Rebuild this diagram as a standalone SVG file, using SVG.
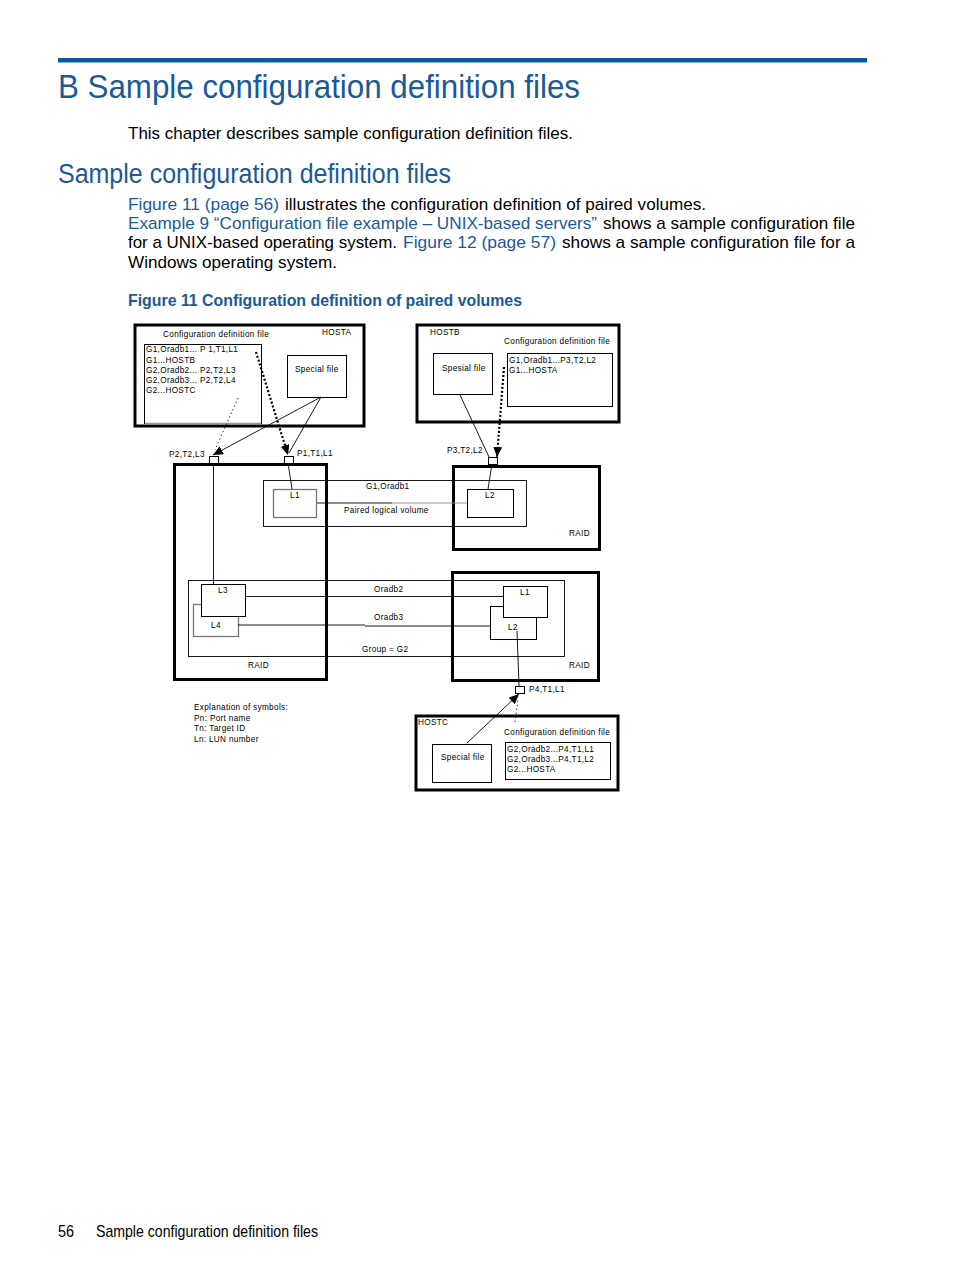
<svg xmlns="http://www.w3.org/2000/svg" width="954" height="1271" viewBox="0 0 954 1271">
<style>
.blue{fill:#1a5a96;font-family:"Liberation Sans",Arial,sans-serif}
.body{fill:#000;font-family:"Liberation Sans",Arial,sans-serif;font-size:17px}
.lnk{fill:#1a5a96;font-family:"Liberation Sans",Arial,sans-serif;font-size:17px}
.t{font-family:"Liberation Sans",Arial,sans-serif;font-size:8.2px;letter-spacing:0.33px;fill:#000}
.thick{fill:none;stroke:#000;stroke-width:3}
.thin{fill:#fff;stroke:#000;stroke-width:1}
.gray{fill:#fff;stroke:#777;stroke-width:1.3}
.ln{fill:none;stroke:#000;stroke-width:0.9}
.lg{fill:none;stroke:#888;stroke-width:0.9}
.dotb{fill:none;stroke:#000;stroke-width:2.2;stroke-dasharray:2 2}
.dott{fill:none;stroke:#000;stroke-width:0.8;stroke-dasharray:1.5 2.5}
</style>
<defs>
<marker id="ah" markerUnits="userSpaceOnUse" markerWidth="11" markerHeight="9" refX="10" refY="4.5" orient="auto">
<path d="M0,0 L10,4.5 L0,9 z" fill="#000"/>
</marker>
</defs>
<rect width="954" height="1271" fill="#fff"/>
<g id="header">
<rect x="58" y="58" width="809" height="4.5" fill="#0b5aa0"/>
<text class="blue" x="58" y="98" font-size="34" textLength="522" lengthAdjust="spacingAndGlyphs">B Sample configuration definition files</text>
<text class="body" x="128" y="139" textLength="445" lengthAdjust="spacingAndGlyphs">This chapter describes sample configuration definition files.</text>
<text class="blue" x="58" y="183" font-size="27" textLength="393" lengthAdjust="spacingAndGlyphs">Sample configuration definition files</text>
<text class="lnk" x="128" y="210" textLength="151" lengthAdjust="spacingAndGlyphs">Figure 11 (page 56)</text>
<text class="body" x="285" y="210" textLength="421" lengthAdjust="spacingAndGlyphs">illustrates the configuration definition of paired volumes.</text>
<text class="lnk" x="128" y="229" textLength="469" lengthAdjust="spacingAndGlyphs">Example 9 “Configuration file example – UNIX-based servers”</text>
<text class="body" x="603" y="229" textLength="252" lengthAdjust="spacingAndGlyphs">shows a sample configuration file</text>
<text class="body" x="128" y="248" textLength="269" lengthAdjust="spacingAndGlyphs">for a UNIX-based operating system.</text>
<text class="lnk" x="403" y="248" textLength="153" lengthAdjust="spacingAndGlyphs">Figure 12 (page 57)</text>
<text class="body" x="562" y="248" textLength="293" lengthAdjust="spacingAndGlyphs">shows a sample configuration file for a</text>
<text class="body" x="128" y="268" textLength="209" lengthAdjust="spacingAndGlyphs">Windows operating system.</text>
<text class="blue" x="128" y="306" font-size="16.5" font-weight="bold" textLength="394" lengthAdjust="spacingAndGlyphs">Figure 11 Configuration definition of paired volumes</text>
</g>
<g id="hosta">
<rect class="thick" x="135" y="325" width="229" height="101"/>
<text class="t" x="163" y="337">Configuration definition file</text>
<text class="t" x="322" y="335">HOSTA</text>
<rect class="thin" x="144.5" y="344.5" width="117" height="79"/>
<line x1="145" y1="423.5" x2="261" y2="423.5" stroke="#999" stroke-width="1.5"/>
<text class="t" x="146" y="352">G1,Oradb1... P 1,T1,L1</text>
<text class="t" x="146" y="363">G1...HOSTB</text>
<text class="t" x="146" y="373">G2,Oradb2... P2,T2,L3</text>
<text class="t" x="146" y="383">G2,Oradb3... P2,T2,L4</text>
<text class="t" x="146" y="393">G2...HOSTC</text>
<rect class="thin" x="287.5" y="355.5" width="59" height="42"/>
<text class="t" x="295" y="372">Special file</text>
</g>
<g id="hostb">
<rect class="thick" x="417" y="325" width="202" height="97"/>
<text class="t" x="430" y="335">HOSTB</text>
<text class="t" x="504" y="344">Configuration definition file</text>
<rect class="thin" x="433.5" y="353.5" width="59" height="41"/>
<text class="t" x="442" y="371">Spesial file</text>
<rect class="thin" x="507.5" y="353.5" width="105" height="53"/>
<text class="t" x="509" y="363">G1,Oradb1...P3,T2,L2</text>
<text class="t" x="509" y="373">G1...HOSTA</text>
</g>
<g id="hostc">
<rect class="thick" x="416" y="716" width="202" height="74"/>
<text class="t" x="418" y="725">HOSTC</text>
<text class="t" x="504" y="735">Configuration definition file</text>
<rect class="thin" x="432.5" y="744.5" width="59" height="38"/>
<text class="t" x="441" y="760">Special file</text>
<rect class="thin" x="505.5" y="742.5" width="105" height="37"/>
<text class="t" x="507" y="752">G2,Oradb2...P4,T1,L1</text>
<text class="t" x="507" y="762">G2,Oradb3...P4,T1,L2</text>
<text class="t" x="507" y="772">G2...HOSTA</text>
</g>
<g id="raid-left">
<rect class="thick" x="174.5" y="464.5" width="152" height="215"/>
<text class="t" x="248" y="668">RAID</text>
</g>
<g id="raid-right-top">
<rect class="thick" x="453.5" y="466.5" width="146" height="83"/>
<text class="t" x="569" y="536">RAID</text>
</g>
<g id="raid-right-bottom">
<rect class="thick" x="452.5" y="572.5" width="146" height="108"/>
<text class="t" x="569" y="668">RAID</text>
</g>
<g id="pair-g1">
<rect class="ln" x="263.5" y="480.5" width="263" height="46"/>
<text class="t" x="366" y="489">G1,Oradb1</text>
<text class="t" x="344" y="513">Paired logical volume</text>
</g>
<g id="group-g2">
<rect class="ln" x="188.5" y="580.5" width="376" height="76"/>
<text class="t" x="362" y="652">Group = G2</text>
<text class="t" x="374" y="592">Oradb2</text>
<text class="t" x="374" y="620">Oradb3</text>
</g>
<g id="lun-l1">
<rect class="gray" x="273.5" y="489.5" width="43" height="28"/>
<text class="t" x="290" y="498">L1</text>
</g>
<g id="lun-l2">
<rect class="thin" x="467.5" y="489.5" width="46" height="28"/>
<text class="t" x="485" y="498">L2</text>
</g>
<g id="lun-l4">
<rect class="gray" x="193.5" y="604.5" width="45" height="32"/>
<text class="t" x="211" y="628">L4</text>
</g>
<g id="lun-l3">
<rect class="thin" x="201.5" y="584.5" width="44" height="32"/>
<text class="t" x="218" y="593">L3</text>
</g>
<g id="lun-l2r">
<rect class="thin" x="490.5" y="606.5" width="46" height="33"/>
<text class="t" x="508" y="630">L2</text>
</g>
<g id="lun-l1r">
<rect class="thin" x="503.5" y="586.5" width="44" height="31"/>
<text class="t" x="520" y="595">L1</text>
</g>
<g id="ports">
<rect class="thin" x="209.5" y="456.5" width="9" height="7"/>
<text class="t" x="169" y="457">P2,T2,L3</text>
<rect class="thin" x="284.5" y="456.5" width="9" height="7"/>
<text class="t" x="297" y="456">P1,T1,L1</text>
<rect class="thin" x="488.5" y="457.5" width="9" height="7"/>
<text class="t" x="447" y="453">P3,T2,L2</text>
<rect class="thin" x="515.5" y="686.5" width="9" height="7"/>
<text class="t" x="529" y="692">P4,T1,L1</text>
</g>
<g id="legend">
<text class="t" x="194" y="710">Explanation of symbols:</text>
<text class="t" x="194" y="721">Pn: Port name</text>
<text class="t" x="194" y="731">Tn: Target ID</text>
<text class="t" x="194" y="742">Ln: LUN number</text>
</g>
<g id="connectors">
<line class="dotb" x1="256" y1="352" x2="288" y2="455" marker-end="url(#ah)"/>
<line class="dott" x1="238" y1="398" x2="215" y2="450"/>
<line class="ln" x1="321" y1="397" x2="213" y2="455" marker-end="url(#ah)"/>
<line class="ln" x1="321" y1="397" x2="289" y2="453"/>
<line class="ln" x1="213.5" y1="463" x2="213.5" y2="584"/>
<line class="ln" x1="288" y1="463" x2="292" y2="489"/>
<line class="ln" x1="317" y1="503" x2="392" y2="503"/>
<line class="lg" x1="392" y1="503" x2="467" y2="503"/>
<line class="ln" x1="460" y1="395" x2="489" y2="457"/>
<line class="dotb" x1="504" y1="367" x2="497" y2="457" marker-end="url(#ah)"/>
<line class="ln" x1="492" y1="464" x2="488" y2="489"/>
<line class="ln" x1="245" y1="596.5" x2="503" y2="596.5"/>
<line class="ln" x1="238" y1="625" x2="365" y2="625"/>
<line class="ln" x1="365" y1="626" x2="490" y2="626"/>
<line class="ln" x1="517" y1="631" x2="519" y2="686"/>
<line class="ln" x1="467" y1="743" x2="519" y2="694" marker-end="url(#ah)"/>
<line class="dott" x1="515" y1="722" x2="518" y2="699"/>
</g>
<g id="footer">
<text class="body" x="58" y="1237" font-size="14" textLength="16" lengthAdjust="spacingAndGlyphs">56</text>
<text class="body" x="96" y="1237" font-size="14" textLength="222" lengthAdjust="spacingAndGlyphs">Sample configuration definition files</text>
</g>
</svg>
